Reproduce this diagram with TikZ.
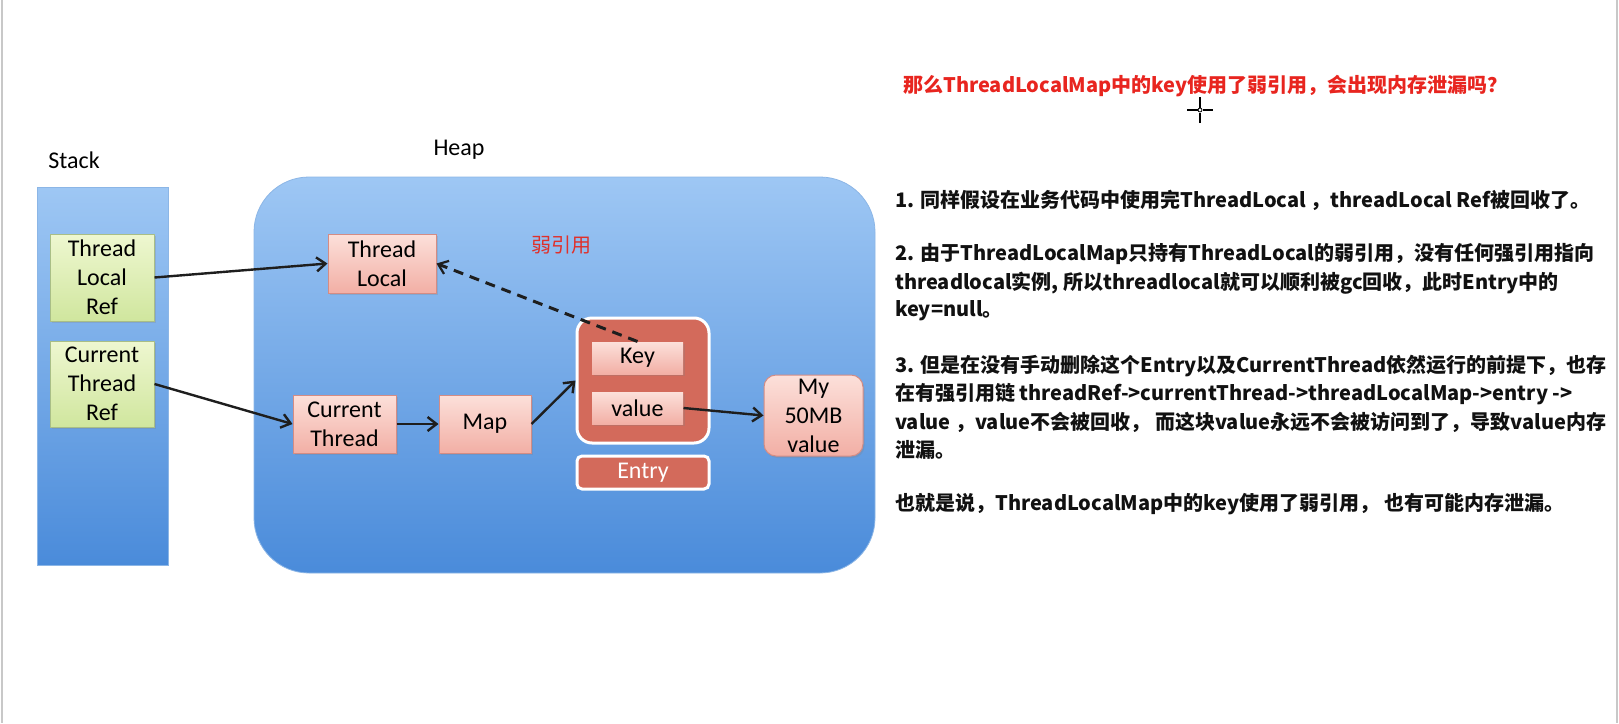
\documentclass[tikz,border=0pt]{standalone}
\usepackage{fontspec}
\setmainfont{Carlito}
\newfontfamily\cjk{Noto Sans CJK SC}
\usetikzlibrary{arrows.meta,shadows}
\definecolor{blueT}{HTML}{9EC7F4}
\definecolor{blueB}{HTML}{4A8BDA}
\definecolor{blueE}{HTML}{8CB6E6}
\definecolor{grnT}{HTML}{EEF7D0}
\definecolor{grnB}{HTML}{D0E69E}
\definecolor{grnE}{HTML}{A9BE86}
\definecolor{pnkT}{HTML}{FCE0DA}
\definecolor{pnkB}{HTML}{F2AFA5}
\definecolor{pnkE}{HTML}{D48C84}
\definecolor{entryC}{HTML}{D36A5B}
\definecolor{arrC}{HTML}{1E1E1E}
\definecolor{titleR}{HTML}{E8251F}
\definecolor{weakR}{HTML}{E0302A}
\definecolor{txtC}{HTML}{111111}
\definecolor{edgeC}{HTML}{C8C8C8}
\tikzset{
  lbl/.style={font=\fontsize{24}{29}\selectfont, align=center, text=black},
  shd/.style={drop shadow={opacity=0.25, shadow xshift=1.5pt, shadow yshift=-2pt}},
  colbox/.style={draw=blueE, line width=0.8pt, top color=blueT, bottom color=blueB, inner sep=0pt},
  greenbox/.style={draw=grnE, line width=1pt, top color=grnT, bottom color=grnB, inner sep=0pt, lbl, shd},
  pinkbox/.style={draw=pnkE, line width=1pt, top color=pnkT, bottom color=pnkB, inner sep=0pt, lbl, shd},
  arr/.style={draw=arrC, line width=2.4pt, -{Straight Barb[length=9pt,width=14pt]}},
  weakarr/.style={draw=arrC, line width=3pt, dash pattern=on 10pt off 7pt, -{Straight Barb[length=9pt,width=14pt,line width=2.2pt]}},
  body/.style={anchor=west, inner sep=0pt, text=txtC, font=\cjk\bfseries\fontsize{20}{24}\selectfont},
}
\begin{document}
\begin{tikzpicture}[x=1pt,y=-1pt]
\useasboundingbox (0,0) rectangle (1619,723);
\fill[white] (0,0) rectangle (1619,723);
\draw[edgeC, line width=2pt] (2,0) -- (2,723);
\draw[edgeC, line width=2pt] (1617,0) -- (1617,723);

% stack and heap
\node[colbox, minimum width=131pt, minimum height=378pt] (stack) at (102.5,376) {};
\node[colbox, rounded corners=55pt, minimum width=621pt, minimum height=396pt] (heap) at (564.5,375) {};
\node[lbl] (stacklbl) at (74,160) {Stack};
\node[lbl] (heaplbl) at (459,150) {Heap};

% stack boxes
\node[greenbox, minimum width=104pt, minimum height=87pt] (tlref) at (102,277.5) {Thread\\Local\\Ref};
\node[greenbox, minimum width=104pt, minimum height=86pt] (ctref) at (102,384) {Current\\Thread\\Ref};

% heap boxes
\node[pinkbox, minimum width=108pt, minimum height=59pt] (tl) at (382,263.5) {Thread\\Local};
\node[pinkbox, minimum width=103pt, minimum height=58pt] (ct) at (344.5,424) {Current\\Thread};
\node[pinkbox, minimum width=92pt, minimum height=58pt] (map) at (485,424) {Map};
\node[draw=white, line width=3pt, fill=entryC, rounded corners=15pt, minimum width=132pt, minimum height=125pt, inner sep=0pt] (entry) at (643,380.5) {};
\node[pinkbox, draw=none, minimum width=91pt, minimum height=32pt] (key) at (637.5,358) {Key};
\node[pinkbox, draw=none, minimum width=91pt, minimum height=32pt] (value) at (637.5,408) {value};
\node[draw=white, line width=3pt, fill=entryC, rounded corners=5pt, minimum width=132pt, minimum height=33pt, inner sep=0pt, lbl, text=white] (entrylbl) at (643,472.5) {Entry};
\node[pinkbox, rounded corners=12pt, minimum width=99pt, minimum height=81pt] (my) at (813.5,415.5) {My\\50MB\\value};
\node[font=\cjk\fontsize{20}{24}\selectfont, text=weakR, inner sep=0pt] (weak) at (561,245) {弱引用};

% connectors
\draw[arr] (tlref.east) -- (tl.west);
\draw[arr] (ctref.east) -- (ct.west);
\draw[arr] (ct.east) -- (map.west);
\draw[arr] (map.east) -- (entry.west);
\draw[arr] (value.east) -- (my.west);
\draw[weakarr] (key.north) -- (tl.east);

% cursor
\coordinate (cur) at (1200,110);
\draw[black, line width=1.2pt] ([xshift=-13pt]cur) -- ([xshift=-2.5pt]cur);
\draw[black, line width=1.2pt] ([xshift=2.5pt]cur) -- ([xshift=13pt]cur);
\draw[black, line width=1.2pt] ([yshift=-13pt]cur) -- ([yshift=-2.5pt]cur);
\draw[black, line width=1.2pt] ([yshift=2.5pt]cur) -- ([yshift=13pt]cur);
\draw[black, line width=0.8pt] (cur) circle (2pt);

% right text
\node[body, text=titleR] (title) at (903,86) {那么ThreadLocalMap中的key使用了弱引用，会出现内存泄漏吗？};
\node[body] (l1) at (895,200) {1. 同样假设在业务代码中使用完ThreadLocal ，threadLocal Ref被回收了。};
\node[body] (l2) at (895,254) {2. 由于ThreadLocalMap只持有ThreadLocal的弱引用，没有任何强引用指向};
\node[body] (l3) at (895,283) {threadlocal实例, 所以threadlocal就可以顺利被gc回收，此时Entry中的};
\node[body] (l4) at (895,311) {key=null。};
\node[body] (l5) at (895,366) {3. 但是在没有手动删除这个Entry以及CurrentThread依然运行的前提下，也存};
\node[body] (l6) at (895,394) {在有强引用链 threadRef->currentThread->threadLocalMap->entry ->};
\node[body] (l7) at (895,422) {value ，value不会被回收， 而这块value永远不会被访问到了，导致value内存};
\node[body] (l8) at (895,450) {泄漏。};
\node[body] (l9) at (895,504) {也就是说，ThreadLocalMap中的key使用了弱引用， 也有可能内存泄漏。};
\end{tikzpicture}
\end{document}
